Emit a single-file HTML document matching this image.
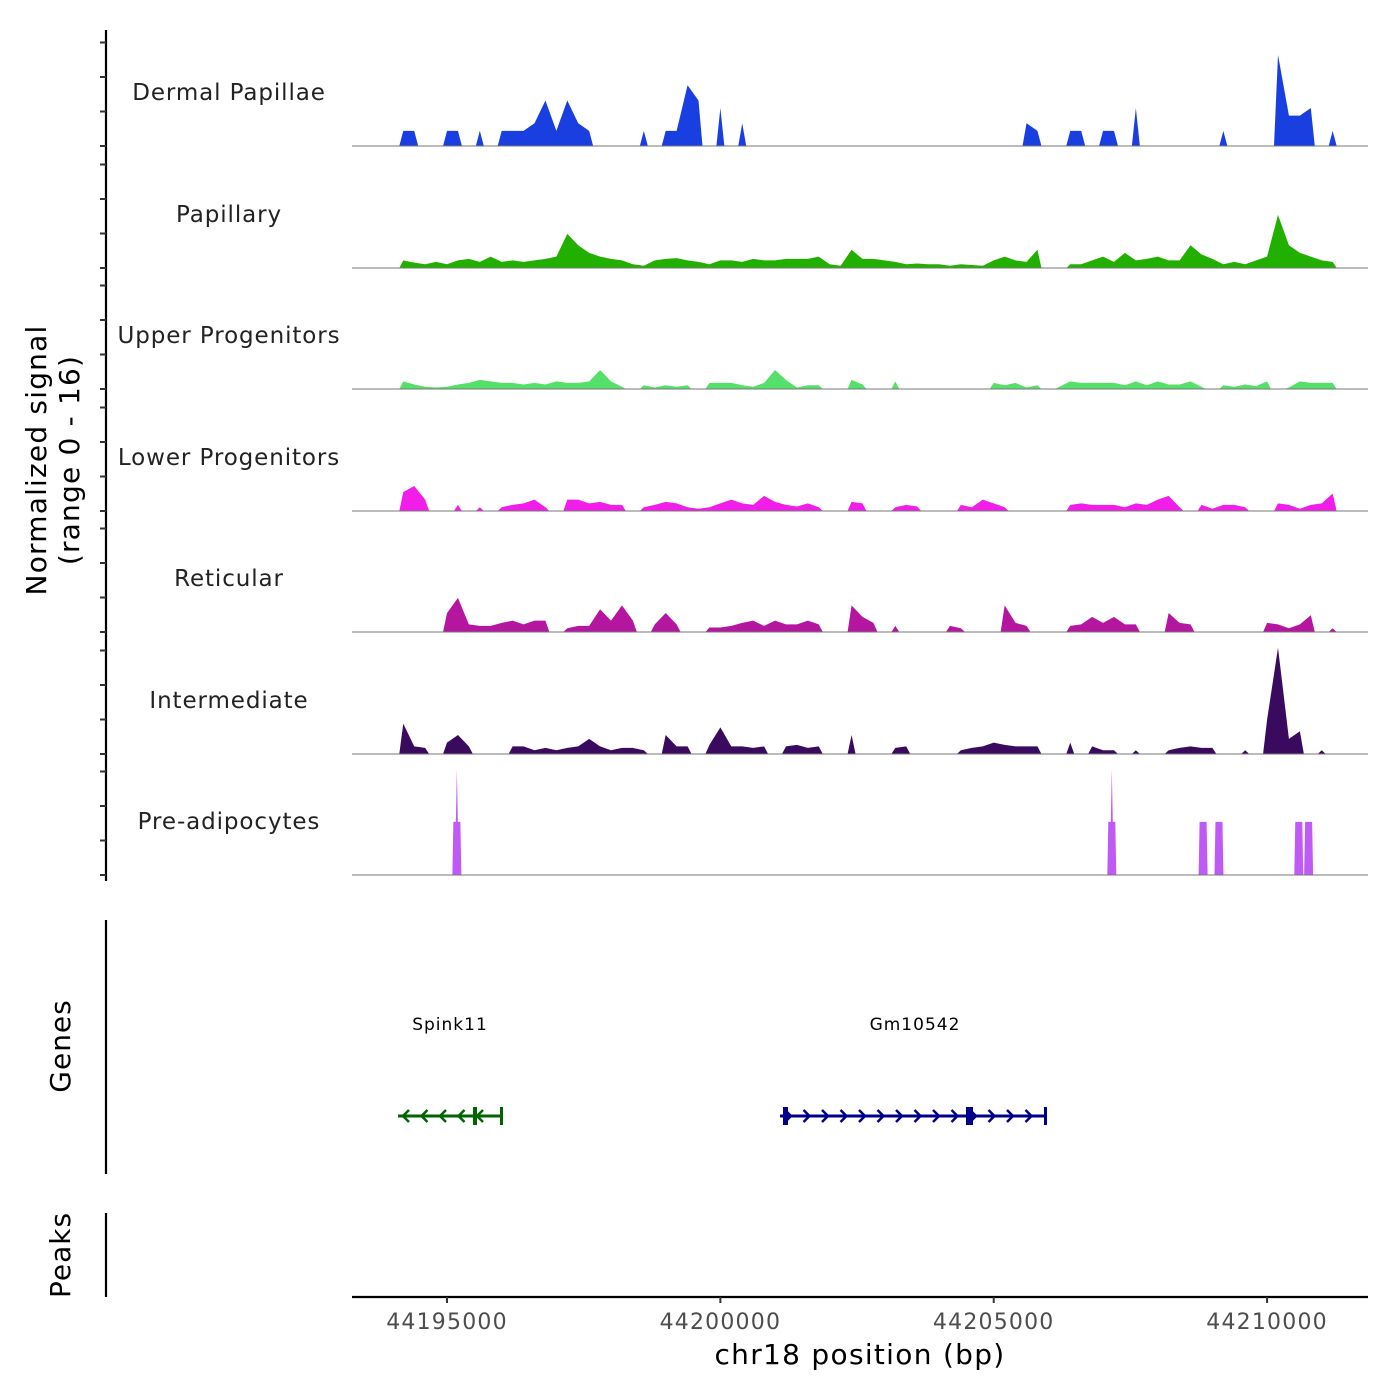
<!DOCTYPE html>
<html><head><meta charset="utf-8"><style>
body{margin:0;background:#fff;}
svg{display:block;font-family:"DejaVu Sans","Liberation Sans",sans-serif;}
</style></head><body>
<svg id="chart" width="1400" height="1400" viewBox="0 0 1400 1400" xmlns="http://www.w3.org/2000/svg"></svg>
<script>
const binStart = 44194100;
const binSize = 200;
const trackNames = ["Dermal Papillae","Papillary","Upper Progenitors","Lower Progenitors","Reticular","Intermediate","Pre-adipocytes"];
const trackColors = ["#1a3fe0","#22b000","#55e06a","#f01ee8","#b5169f","#3a0a5e","#c05af5"];
const dermalPapillae = [2,2,0,0,2,2,0,2,0,2,2,2,3,6,2,6,3,2,0,0,0,0,2,0,2,2,8,6,0,5,0,3,0,0,0,0,0,0,0,0,0,0,0,0,0,0,0,0,0,0,0,0,0,0,0,0,0,3,2,0,0,2,2,0,2,2,0,5,0,0,0,0,0,0,0,2,0,0,0,0,12,4,4,5,0,2];
const papillary = [1,0.7,0.5,0.8,0.5,1,1.2,0.8,1.5,0.8,1,0.8,1,1.2,1.5,4.5,3,2,1.5,1.2,1,0.5,0.3,1,1.2,1.3,1,0.8,0.5,1,1,0.8,1.2,1,1,1.2,1.2,1.2,1.5,0.5,0.3,2.4,1.2,1.2,1,0.8,0.5,0.6,0.5,0.5,0.3,0.5,0.4,0.3,1,1.5,1,0.8,2.4,0,0,0.5,0.5,1,1.5,0.8,2,1,1.2,1.5,1,1,3,1.8,1.2,0.5,0.8,0.5,1,1.5,7,3,2,1.5,1,0.8];
const upperProgenitors = [1,0.6,0.3,0.2,0.3,0.6,0.8,1.2,1,0.8,0.8,0.6,0.8,0.6,1,0.8,0.8,1,2.5,1,0.3,0,0.5,0.2,0.5,0.3,0.5,0,0.8,0.8,0.8,0.5,0.3,0.8,2.5,1.2,0.2,0.5,0.5,0,0,1.2,0.6,0,0,1,0,0,0,0,0,0,0,0,0.8,0.5,0.8,0.2,0.5,0,0.3,1,0.8,0.8,0.8,0.8,0.5,1,0.5,1,0.6,0.6,1,0.3,0,0.5,0.3,0.6,0.4,1,0,0.2,1,0.8,0.8,0.8];
const lowerProgenitors = [2.5,3.3,1.5,0,0,0.8,0,0.5,0,0.5,0.8,1,1.5,0.5,0,1.5,1.5,1,1.2,0.8,0.8,0,0.5,0.8,1.2,1,0.5,0.3,0.5,1,1.5,1,0.8,2,1.2,0.8,0.6,1,0.5,0,0,1.2,1,0,0,0.5,0.8,0.6,0,0,0,0.8,0.5,1.5,1,0.5,0,0,0,0,0,0.8,1,0.8,0.8,0.8,0.5,1,0.8,1.5,2,0.5,0,0.8,0.3,0.8,0.8,0.5,0,0,1,0.8,0.3,0.8,1,2.3];
const reticular = [0,0,0,0,2.5,4.5,1,0.8,0.8,1.2,1.5,1,1.5,1.5,0,0.5,0.8,0.8,3,1.5,3.5,1.5,0,1,2.5,1,0,0,0.6,0.6,0.8,1.2,1.5,0.8,1.5,1,1,1.5,1,0,0,3.5,2,1.2,0,0.8,0,0,0,0,0.8,0.5,0,0,0,3.5,1.2,0.8,0,0,0,0.8,1,2,1.2,2,1,1,0,0,2.5,1.2,1,0,0,0,0,0,0,1.2,1,0.5,1,2.2,0,0.5];
const intermediate = [4,1,0.8,0,1.5,2.5,1,0,0,0,1,1,0.5,0.8,0.5,0.8,1,2,1,0.5,0.8,0.8,0.5,0,2.5,1,1,0,1.2,3.5,1,1,0.8,1,0,1,1.2,0.8,1,0,0,2.5,0,0,0,0.8,1,0,0,0,0,0.5,0.8,1,1.5,1.2,1,1,1,0,0,1.5,0,1,0.5,0.5,0,0.5,0,0,0.5,0.8,1,0.8,0.8,0,0,0.5,0,4.5,14,2,3,0,0.5,0];
const preadPos = [44195180,44207160,44208830,44209120,44210580,44210760];
const preadBase = [7,7,7,7,7,7];
const preadPeak = [14,14,7,7,7,7];
const xTicks = [44195000,44200000,44205000,44210000];
const tracks = [dermalPapillae,papillary,upperProgenitors,lowerProgenitors,reticular,intermediate];

const svg = document.getElementById('chart');
const NS = 'http://www.w3.org/2000/svg';
function mk(tag, attrs, parent){const e=document.createElementNS(NS,tag);for(const k in attrs)e.setAttribute(k,attrs[k]);(parent||svg).appendChild(e);return e;}
const X0=352, X1=1368, BP0=44193262, PXBP=0.05467;
function xs(bp){return X0+(bp-BP0)*PXBP;}
const baselines=[146,268,389,511,632,754,875];
const PXU=121.5/16;
function ys(v,t){return baselines[t]-v*PXU;}

let ax=mk('line',{x1:106,y1:30,x2:106,y2:881,stroke:'#000','stroke-width':2.2});


for(let t=0;t<7;t++){for(let k=0;k<4;k++){const y=baselines[t]-k*34.5;if(y<30)continue;
 const tk=mk('line',{x1:100,y1:y,x2:106,y2:y,stroke:'#333','stroke-width':2});
 
 }}
let yt=mk('text',{x:0,y:0,transform:'translate(52,460) rotate(-90)','text-anchor':'middle','font-size':28,'letter-spacing':1.2,fill:'#000'});


yt.innerHTML='<tspan x="0" dy="-6">Normalized signal</tspan><tspan x="0" dy="33">(range 0 - 16)</tspan>';

for(let t=0;t<7;t++){
 const g=mk('g',{});
 
 
 const lb=mk('text',{x:229,y:baselines[t]-46,'text-anchor':'middle','font-size':23,'letter-spacing':0.9,fill:'#222'},g);
 lb.textContent=trackNames[t];
 
 
 if(t<6){
  const d=tracks[t];
  let path='';let inSeg=false;
  for(let i=0;i<d.length;i++){
   const xc=xs(binStart+(i+0.5)*binSize);
   if(d[i]>0){
     if(!inSeg){path+='M'+(xc-4)+','+baselines[t]+' ';inSeg=true;}
     path+='L'+xc+','+ys(d[i],t)+' ';
     if(i===d.length-1||d[i+1]===0){path+='L'+(xc+4)+','+baselines[t]+' Z ';inSeg=false;}
   }
  }
  const a=mk('path',{d:path,fill:trackColors[t]},g);
  
  
 } else {
  for(let j=0;j<preadPos.length;j++){
   const xc=xs(preadPos[j]);
   const p=mk('path',{d:`M${xc-4.5},${baselines[t]} L${xc-3.5},${ys(preadBase[j],t)} L${xc-1},${ys(preadBase[j],t)} L${xc},${ys(preadPeak[j],t)} L${xc+1},${ys(preadBase[j],t)} L${xc+3.5},${ys(preadBase[j],t)} L${xc+4.5},${baselines[t]} Z`,fill:trackColors[t]},g);
   
   
  }
 }
 const bl=mk('line',{x1:X0,y1:baselines[t],x2:X1,y2:baselines[t],stroke:'#777','stroke-width':1},g);
 
 
}

let ga=mk('line',{x1:106,y1:920,x2:106,y2:1174,stroke:'#000','stroke-width':2.2});


let gt=mk('text',{x:0,y:0,transform:'translate(70,1046) rotate(-90)','text-anchor':'middle','font-size':28,'letter-spacing':1});
gt.textContent='Genes';


function gene(name,x1,x2,color,dir,exons,lx){
 const g=mk('g',{});
 
 
 const t=mk('text',{x:lx,y:1030,'text-anchor':'middle','font-size':17,'letter-spacing':1,fill:'#000'},g);
 t.textContent=name;
 mk('line',{x1:x1,y1:1116,x2:x2,y2:1116,stroke:color,'stroke-width':3},g);
 for(let x=x1+8;x<x2-4;x+=18.5){
  const d=dir>0?`M${x-3},1110 L${x+3},1116 L${x-3},1122`:`M${x+3},1110 L${x-3},1116 L${x+3},1122`;
  mk('path',{d:d,stroke:color,fill:'none','stroke-width':2.5},g);
 }
 exons.forEach(e=>mk('rect',{x:e[0],y:1107,width:e[1],height:18,fill:color},g));
}
gene('Spink11',398,502,'#006400',-1,[[473,4],[500,3]],450);
gene('Gm10542',780,1047,'#00008b',1,[[783,5],[966,7],[1044,3]],915);

let pa=mk('line',{x1:106,y1:1213,x2:106,y2:1297,stroke:'#000','stroke-width':2.2});


let pt=mk('text',{x:0,y:0,transform:'translate(70,1255) rotate(-90)','text-anchor':'middle','font-size':28,'letter-spacing':1});
pt.textContent='Peaks';



let xa=mk('line',{x1:X0,y1:1297,x2:X1,y2:1297,stroke:'#000','stroke-width':2.2});


xTicks.forEach(v=>{
 const x=xs(v);
 const tk=mk('line',{x1:x,y1:1297,x2:x,y2:1303,stroke:'#333','stroke-width':2});
 
 
 const l=mk('text',{x:x,y:1329,'text-anchor':'middle','font-size':22,'letter-spacing':1.2,fill:'#4d4d4d'});
 l.textContent=String(v);
 
 
});
let xt=mk('text',{x:860,y:1364,'text-anchor':'middle','font-size':28,'letter-spacing':1.3,fill:'#000'});
xt.textContent='chr18 position (bp)';


</script>
</body></html>
